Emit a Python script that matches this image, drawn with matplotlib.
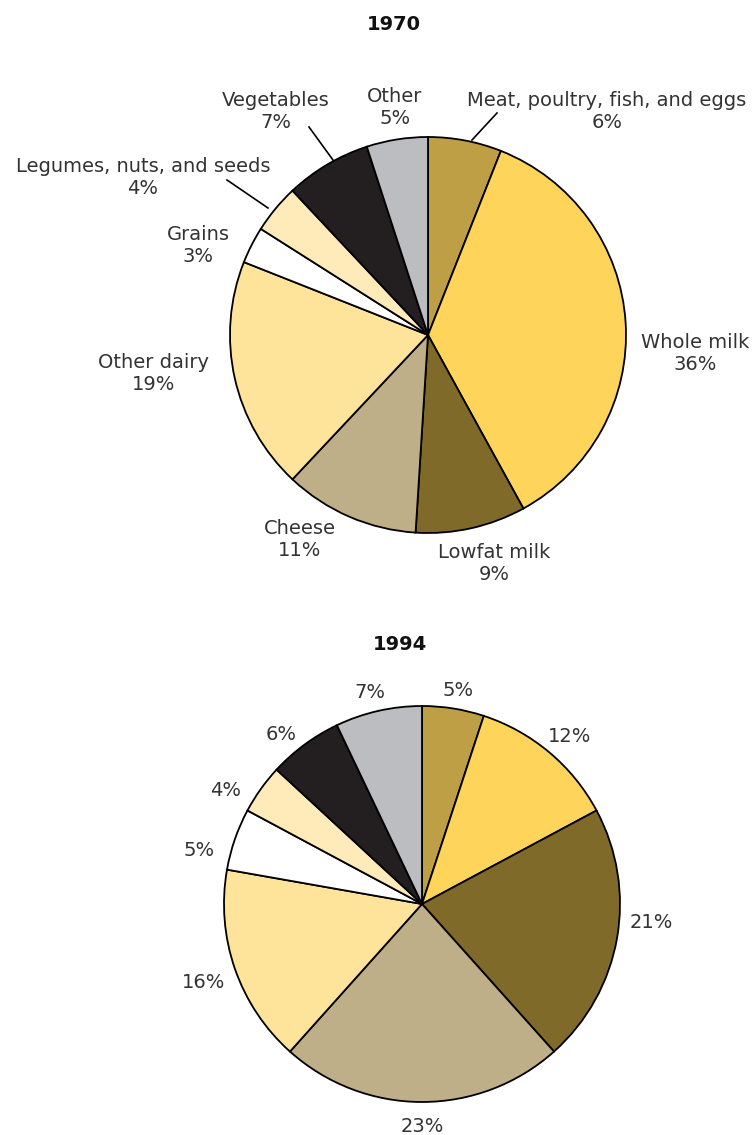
import matplotlib
matplotlib.use("Agg")
import matplotlib.pyplot as plt

# data
categories = ["Meat, poultry, fish, and eggs", "Whole milk", "Lowfat milk", "Cheese",
              "Other dairy", "Grains", "Legumes, nuts, and seeds", "Vegetables", "Other"]
share_1970 = [6, 36, 9, 11, 19, 3, 4, 7, 5]
share_1994 = [5, 12, 21, 23, 16, 5, 4, 6, 7]
colors = ["#BF9F45", "#FED55A", "#806A29", "#BFAF89", "#FEE39B",
          "#FFFFFF", "#FEEBB9", "#231F20", "#BCBDC0"]

W, H = 755, 1135
TEXT = "#333333"

fig = plt.figure(figsize=(W / 100, H / 100), dpi=100)
ax = fig.add_axes([0, 0, 1, 1])
plt.rcParams['font.family'] = ['DejaVu Sans']


def Y(py):
    # pixel row -> data y
    return H - py


def draw_pie(values, cx, cy, r):
    ax.pie(values, colors=colors, startangle=90, counterclock=False,
           center=(cx, Y(cy)), radius=r, frame=True,
           wedgeprops=dict(edgecolor="black", linewidth=1.3))


# 1970
ax.text(394, Y(25), "1970", ha="center", va="center", fontsize=14,
        fontweight="bold", color="#111111")
draw_pie(share_1970, 428, 335, 198)
label_pos_1970 = [(607, 111), (695, 353), (494, 563), (300, 539), (154, 373),
                  (198, 245), (143, 177), (276, 112), (395, 107)]
for name, v, (x, y) in zip(categories, share_1970, label_pos_1970):
    ax.text(x, Y(y), f"{name}\n{v}%", ha="center", va="center",
            fontsize=14, color=TEXT, linespacing=1.2)

leaders = [((472, 140), (497, 113)), ((333, 160), (309, 127)), ((268, 208), (227, 180))]
for (x0, y0), (x1, y1) in leaders:
    ax.plot([x0, x1], [Y(y0), Y(y1)], color="black", lw=1.2)

# 1994
ax.text(400, Y(645), "1994", ha="center", va="center", fontsize=14,
        fontweight="bold", color="#111111")
draw_pie(share_1994, 422, 904, 198)
label_pos_1994 = [(458, 690), (570, 737), (651, 922), (422, 1126), (204, 983),
                  (199, 850), (226, 791), (281, 735), (370, 692)]
for v, (x, y) in zip(share_1994, label_pos_1994):
    ax.text(x, Y(y), f"{v}%", ha="center", va="center", fontsize=14, color=TEXT)

ax.set_xlim(0, W)
ax.set_ylim(0, H)
ax.set_aspect("equal")
ax.axis("off")
fig.savefig("out.png", dpi=100)
